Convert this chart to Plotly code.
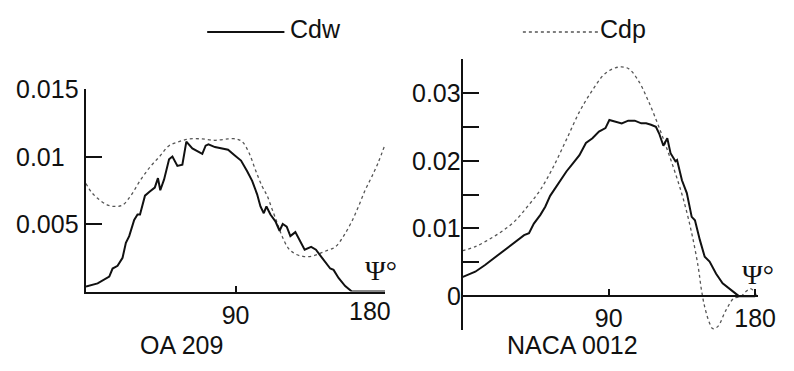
import plotly.graph_objects as go

# ---------------- data ----------------
# OA 209 (left panel)
oa_psi_cdw = [0, 7, 14, 16, 19, 22, 24, 26, 29, 31, 32.5, 35.5, 38.4, 41.4, 43.3, 44.7, 47, 50, 52, 55, 58,
              60.4, 64, 67, 70, 72, 73.7, 77.6, 81.6, 85.5, 89.4, 93.3, 97, 100, 103, 105, 107, 108.6, 111,
              114, 116.5, 118.4, 120.8, 123, 126, 128.6, 131.6, 135.5, 138.4, 141.4, 144.3, 147, 149, 152,
              156, 160, 170, 180]
oa_cdw = [0.00037, 0.0006, 0.0011, 0.0017, 0.0019, 0.0025, 0.0036, 0.0041, 0.0053, 0.0057, 0.0057, 0.0071,
          0.0074, 0.0077, 0.0084, 0.0075, 0.0083, 0.0098, 0.0100, 0.0093, 0.0094, 0.0111, 0.0106, 0.0104,
          0.0102, 0.0108, 0.0109, 0.0107, 0.0106, 0.0105, 0.0101, 0.0097, 0.0089, 0.0082, 0.0072, 0.0063,
          0.0058, 0.0063, 0.0057, 0.0052, 0.0045, 0.0050, 0.0048, 0.0041, 0.0044, 0.0038, 0.0031, 0.0033,
          0.0031, 0.0026, 0.0021, 0.0017, 0.0016, 0.0010, 0.0004, 0.0, 0.0, 0.0]
oa_psi_cdp = [0, 3, 7, 13, 17.8, 22, 27, 32.5, 38.4, 44.3, 50, 56, 62, 70, 77.6, 85.5, 90.4, 94, 98, 102,
              106, 109, 112, 115, 118, 121.8, 125.7, 130.6, 135.5, 140.4, 144.3, 150, 155, 160, 164, 168,
              172, 175.7, 180]
oa_cdp = [0.0080, 0.0074, 0.0069, 0.0064, 0.0063, 0.0064, 0.0071, 0.0082, 0.0092, 0.0100, 0.0108, 0.0111,
          0.0113, 0.0113, 0.0112, 0.0113, 0.0113, 0.0111, 0.0103, 0.0090, 0.0078, 0.0071, 0.0061, 0.0051,
          0.0041, 0.0032, 0.0028, 0.0026, 0.0026, 0.0028, 0.0030, 0.0033, 0.0041, 0.0052, 0.0063, 0.0075,
          0.0085, 0.0095, 0.0109]

# NACA 0012 (right panel)
naca_psi_cdw = [0, 3, 8, 14, 20, 26, 32, 38, 41, 44, 48, 51, 54, 57, 60, 64, 68, 72, 76, 80, 84, 88, 90.4,
                94, 98, 102, 106, 110, 113, 116, 119, 121, 123.6, 126, 128, 131, 132, 135, 138, 141, 143,
                146, 149, 152, 156, 160, 165, 170, 180]
naca_cdw = [0.0028, 0.0031, 0.0036, 0.0046, 0.0057, 0.0067, 0.0078, 0.0090, 0.0093, 0.0107, 0.0120, 0.0132,
            0.0148, 0.0159, 0.0171, 0.0184, 0.0196, 0.0208, 0.0226, 0.0233, 0.0243, 0.0248, 0.0260, 0.0258,
            0.0255, 0.0259, 0.0259, 0.0255, 0.0255, 0.0253, 0.0250, 0.0240, 0.0222, 0.0233, 0.0211, 0.0199,
            0.0201, 0.0171, 0.0152, 0.0117, 0.0112, 0.0083, 0.0058, 0.0051, 0.0033, 0.0019, 0.0009, 0.0,
            0.0]
naca_psi_cdp = [0, 8, 16, 24, 32, 40, 48, 56, 64, 72, 80, 88, 96, 102, 108, 114, 120, 126, 131, 136, 141,
                145, 147, 149, 152, 154, 157, 162, 167, 171, 174, 177, 179, 181]
naca_cdp = [0.0067, 0.0073, 0.0083, 0.0095, 0.0110, 0.0132, 0.0157, 0.0191, 0.0231, 0.0272, 0.0304, 0.0329,
            0.0338, 0.0336, 0.0319, 0.0290, 0.0255, 0.0216, 0.0181, 0.0142, 0.0093, 0.0043, 0.0009, -0.0016,
            -0.0040, -0.0048, -0.0045, -0.0021, -0.0003, -0.0001, 0.0006, 0.0011, 0.0008, 0.0]

left_ytick_vals = [0.005, 0.01, 0.015]
left_ytick_text = ["0.005", "0.01", "0.015"]
right_ytick_vals = [-0.005, 0, 0.005, 0.01, 0.015, 0.02, 0.025, 0.03, 0.035]
right_ytick_text = ["", "0", "", "0.01", "", "0.02", "", "0.03", ""]
xtick_vals = [90, 180]
xtick_text = ["90", "180"]
series_names = ["Cdw", "Cdp"]
panel_names = ["OA 209", "NACA 0012"]

# ---------------- layout helpers ----------------
W, H = 794, 371
FONT = "Liberation Sans, Arial, sans-serif"
FS = 25
BLACK = "#111111"
DOT = "#555555"


def fx(p):
    return p / W


def fy(p):
    return 1 - p / H


fig = go.Figure()

solid = dict(color=BLACK, width=2)
dotted = dict(color=DOT, width=1.3, dash="dot")

fig.add_trace(go.Scatter(x=oa_psi_cdp, y=oa_cdp, mode="lines", line=dotted, line_shape="spline",
                         name=series_names[1], xaxis="x", yaxis="y", showlegend=False))
fig.add_trace(go.Scatter(x=oa_psi_cdw, y=oa_cdw, mode="lines", line=solid,
                         name=series_names[0], xaxis="x", yaxis="y", showlegend=False))
fig.add_trace(go.Scatter(x=naca_psi_cdp, y=naca_cdp, mode="lines", line=dotted, line_shape="spline",
                         name=series_names[1], xaxis="x2", yaxis="y2", showlegend=False))
fig.add_trace(go.Scatter(x=naca_psi_cdw, y=naca_cdw, mode="lines", line=solid,
                         name=series_names[0], xaxis="x2", yaxis="y2", showlegend=False))

y2_dom = [fy(330), fy(59)]
y2_range = [-0.005, 0.035]
x2_pos = y2_dom[0] + (0 - y2_range[0]) / (y2_range[1] - y2_range[0]) * (y2_dom[1] - y2_dom[0])

axis_common = dict(showgrid=False, zeroline=False, showline=True, linecolor=BLACK, linewidth=2,
                   ticks="inside", tickcolor=BLACK, tickwidth=2,
                   tickfont=dict(family=FONT, size=FS, color=BLACK))

fig.update_layout(
    width=W, height=H,
    margin=dict(l=0, r=0, t=0, b=0),
    paper_bgcolor="white", plot_bgcolor="white",
    xaxis=dict(domain=[fx(88), fx(394)], range=[0, 180], anchor="y",
               tickvals=[90], ticktext=["90"], ticklen=6, ticklabelstandoff=0, **axis_common),
    yaxis=dict(domain=[fy(291.5), fy(89)], range=[0, 0.015], anchor="x",
               tickvals=left_ytick_vals, ticktext=["" for _ in left_ytick_vals], ticklen=16,
               **axis_common),
    xaxis2=dict(domain=[fx(473), fx(776)], range=[0, 182], anchor="free", position=x2_pos,
                tickvals=xtick_vals, ticktext=xtick_text, ticklen=6,
                ticklabelstandoff=0, **axis_common),
    yaxis2=dict(domain=y2_dom, range=y2_range, anchor="free", position=fx(473),
                tickvals=right_ytick_vals, ticktext=["" for _ in right_ytick_vals], ticklen=16,
                **axis_common),
)

annotations = []
tfont = dict(family=FONT, size=FS, color=BLACK)
# left y tick labels (left aligned as in the original)
for v, t in zip(left_ytick_vals, left_ytick_text):
    annotations.append(dict(x=fx(14), xref="paper", y=v, yref="y", text=t, showarrow=False,
                            xanchor="left", yanchor="middle", font=tfont))
# right y tick labels (right aligned against the axis)
for v, t in zip(right_ytick_vals, right_ytick_text):
    if t:
        annotations.append(dict(x=fx(474), xref="paper", y=v, yref="y2", text=t, showarrow=False,
                                xanchor="right", yanchor="middle", font=tfont))
# left "180" label
annotations.append(dict(x=171, xref="x", y=fy(311), yref="paper", text=xtick_text[1], showarrow=False,
                        xanchor="center", yanchor="middle", font=tfont))
# psi labels
for xp, yp in [(390, 270), (776, 274)]:
    annotations.append(dict(x=fx(xp), y=fy(yp), xref="paper", yref="paper", text="Ψ°", showarrow=False,
                            xanchor="center", yanchor="middle",
                            font=dict(family="Liberation Serif, serif", size=28, color=BLACK)))
# panel names
for xp, t in [(186, panel_names[0]), (586, panel_names[1])]:
    annotations.append(dict(x=fx(xp), y=fy(345), xref="paper", yref="paper", text=t, showarrow=False,
                            xanchor="center", yanchor="middle", font=tfont))
# legend texts
for xp, t in [(295, series_names[0]), (612, series_names[1])]:
    annotations.append(dict(x=fx(xp), y=fy(29), xref="paper", yref="paper", text=t, showarrow=False,
                            xanchor="left", yanchor="middle", font=tfont))
fig.update_layout(annotations=annotations)

# legend samples
fig.add_shape(type="line", xref="paper", yref="paper", x0=fx(212), x1=fx(291), y0=fy(32), y1=fy(32),
              line=dict(color=BLACK, width=2))
fig.add_shape(type="line", xref="paper", yref="paper", x0=fx(535), x1=fx(612), y0=fy(32), y1=fy(32),
              line=dict(color=DOT, width=1.5, dash="dot"))

fig.write_html("out.html")
